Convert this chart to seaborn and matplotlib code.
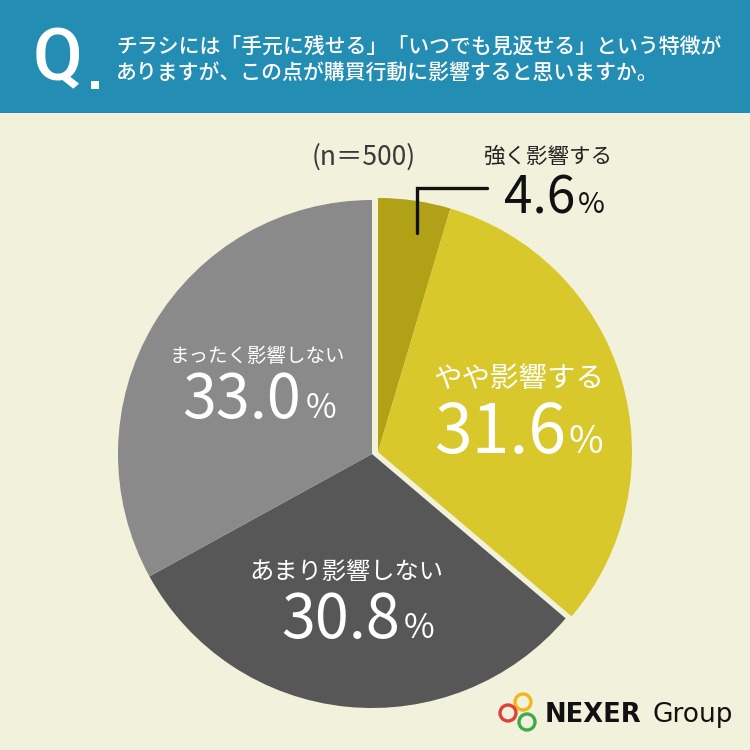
import matplotlib
matplotlib.use("Agg")
import matplotlib.pyplot as plt
import seaborn as sns
from matplotlib.patches import Rectangle, Circle

# ---- data ----
labels = ["強く影響する", "やや影響する", "あまり影響しない", "まったく影響しない"]
values = [4.6, 31.6, 30.8, 33.0]
value_texts = ["4.6", "31.6", "30.8", "33.0"]
colors = ["#B0A116", "#D9C82B", "#575757", "#8A8A8A"]
title_lines = ["チラシには「手元に残せる」「いつでも見返せる」という特徴が",
               "ありますが、この点が購買行動に影響すると思いますか。"]
n_text = "(n＝500)"

sns.set_theme(style="white")
plt.rcParams['font.family'] = ['Noto Sans CJK JP', 'DejaVu Sans']

BG = "#F2F2DC"
HEAD = "#238DB4"

fig = plt.figure(figsize=(7.5, 7.5), dpi=100)
fig.patch.set_facecolor(BG)
ax = fig.add_axes([0, 0, 1, 1])

def Y(p):
    return 750 - p

# pie
cx, cy, r = 372, Y(454), 254
wedges, _ = ax.pie(values, colors=colors, startangle=90, counterclock=False,
                   center=(cx, cy), radius=r, wedgeprops=dict(linewidth=0))
for w in wedges:
    w.set_zorder(2)
for w in wedges[:2]:
    w.set_center((cx + 6, cy + 2))
ax.set_xlim(0, 750)
ax.set_ylim(0, 750)
ax.set_aspect('equal')
ax.axis('off')

# header
ax.add_patch(Rectangle((0, Y(113)), 750, 113, facecolor=HEAD, edgecolor='none', zorder=1))
ax.text(33, Y(80), "Q", color="white", fontsize=52, fontweight='medium', va='baseline', ha='left',
        family=['Roboto', 'DejaVu Sans'], zorder=3)
ax.add_patch(Rectangle((91, Y(89)), 8, 8, facecolor="white", edgecolor='none', zorder=3))
ax.text(116, Y(46.5), title_lines[0], color="white", fontsize=15, fontweight='medium',
        va='center', ha='left', zorder=3)
ax.text(116, Y(73), title_lines[1], color="white", fontsize=15, fontweight='medium',
        va='center', ha='left', zorder=3)

# n label
ax.text(312, Y(157), n_text, color="#3A3A3A", fontsize=19, va='center', ha='left', zorder=4)

# 4.6 label (outside)
ax.text(483, Y(157), labels[0], color="#222222", fontsize=15.5,
        va='center', ha='left', zorder=4)
ax.text(575, Y(213), value_texts[0], color="#111111", fontsize=37,
        va='baseline', ha='right', zorder=4)
ax.text(578, Y(213), "%", color="#111111", fontsize=21, va='baseline', ha='left', zorder=4)
ax.plot([417, 417, 487], [Y(233), Y(188), Y(188)], color="#111111", lw=2.4,
        solid_joinstyle='miter', zorder=4)

# 31.6
ax.text(519, Y(379), labels[1], color="white", fontsize=20.5, va='center', ha='center', zorder=4)
ax.text(566, Y(453), value_texts[1], color="white", fontsize=49,
        va='baseline', ha='right', zorder=4)
ax.text(569, Y(453), "%", color="white", fontsize=27, va='baseline', ha='left', zorder=4)

# 33.0
ax.text(257, Y(356), labels[3], color="white", fontsize=14, va='center', ha='center', zorder=4)
ax.text(301, Y(418), value_texts[3], color="white", fontsize=44,
        va='baseline', ha='right', zorder=4)
ax.text(306, Y(418), "%", color="white", fontsize=24, va='baseline', ha='left', zorder=4)

# 30.8
ax.text(346, Y(572), labels[2], color="white", fontsize=17.5, va='center', ha='center', zorder=4)
ax.text(400, Y(638), value_texts[2], color="white", fontsize=44,
        va='baseline', ha='right', zorder=4)
ax.text(404, Y(638), "%", color="white", fontsize=24, va='baseline', ha='left', zorder=4)

# logo
for (lx, ly, c) in [(523, 702, "#F2B51B"), (508, 713, "#E0403A"), (527, 722, "#3EAA4A")]:
    ax.add_patch(Circle((lx, Y(ly)), 8, facecolor='none', edgecolor=c, lw=2.4, zorder=5))
ax.text(545, Y(722), "NEXER", color="#111111", fontsize=18.5, fontweight='bold', va='baseline', ha='left',
        family=['DejaVu Sans'], zorder=5)
ax.text(652, Y(722), "Group", color="#111111", fontsize=19, fontweight='normal', va='baseline', ha='left',
        family=['DejaVu Sans'], zorder=5)

fig.savefig("out.png", dpi=100, facecolor=BG)
